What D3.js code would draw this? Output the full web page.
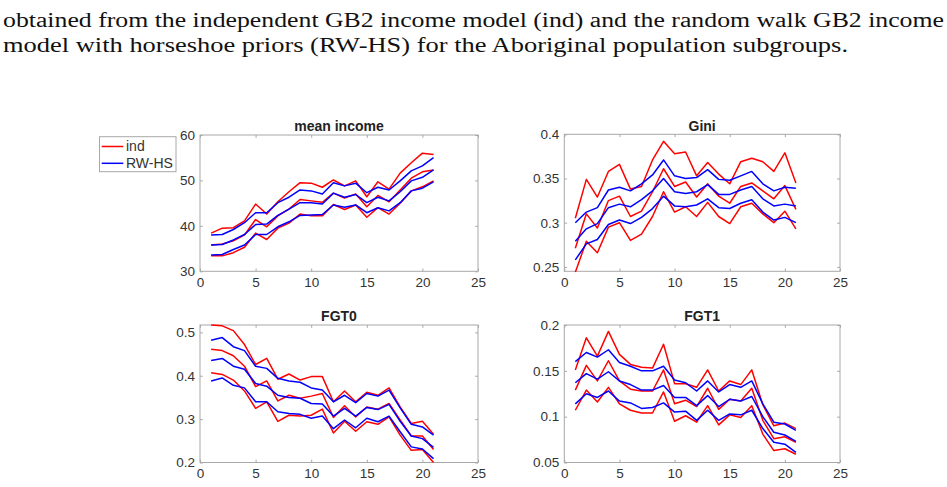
<!DOCTYPE html>
<html><head><meta charset="utf-8">
<script src="https://cdn.jsdelivr.net/npm/d3@7"></script>
<style>
html,body{margin:0;padding:0;background:#fff;}
svg{display:block;}
</style></head>
<body>
<svg id="chart" width="947" height="487"></svg>
<script>
// ---- data ----
const areas = d3.range(1, 22);
const xTicks = [0, 5, 10, 15, 20, 25];
const captionLines = [
  "obtained from the independent GB2 income model (ind) and the random walk GB2 income",
  "model with horseshoe priors (RW-HS) for the Aboriginal population subgroups."
];
const legendLabels = ["ind", "RW-HS"];
const panelTitles = ["mean income", "Gini", "FGT0", "FGT1"];

// mean income
const meanIndHi  = [38.4,39.5,39.6,41.1,44.8,42.6,45.3,47.5,49.5,49.4,48.5,50.1,48.8,49.9,46.4,49.7,48.1,51.6,53.9,56.0,55.7];
const meanIndMid = [35.8,36.0,36.7,38.0,41.4,39.8,42.2,43.7,45.8,45.5,45.2,47.2,46.1,47.0,44.2,46.7,45.3,47.9,50.5,51.9,52.3];
const meanIndLo  = [33.4,33.4,34.1,35.3,38.4,37.0,39.5,40.6,42.6,42.2,42.2,44.7,43.6,44.6,41.9,44.0,42.6,45.0,47.7,48.6,49.9];
const meanRwHi   = [38.0,38.1,39.2,40.7,42.9,42.9,45.1,46.3,47.9,47.7,47.0,49.5,48.8,49.4,47.3,48.5,47.9,49.9,52.1,53.2,55.0];
const meanRwMid  = [35.8,35.9,36.9,38.1,40.3,40.4,42.3,43.7,45.1,45.1,44.8,47.2,46.3,46.9,45.1,46.3,45.5,47.5,49.9,50.7,52.3];
const meanRwLo   = [33.6,33.7,34.8,35.8,38.1,38.1,39.8,40.9,42.3,42.4,42.5,44.6,44.1,44.6,42.9,44.0,43.3,45.1,47.7,48.3,49.7];
const meanYTicks = [30, 40, 50, 60];

// Gini
const giniIndHi  = [0.305,0.349,0.329,0.358,0.366,0.338,0.341,0.371,0.392,0.378,0.380,0.353,0.368,0.355,0.344,0.369,0.373,0.369,0.358,0.379,0.345];
const giniIndMid = [0.271,0.310,0.294,0.325,0.330,0.307,0.313,0.335,0.361,0.341,0.346,0.329,0.344,0.330,0.322,0.341,0.345,0.336,0.327,0.342,0.315];
const giniIndLo  = [0.244,0.279,0.266,0.295,0.300,0.280,0.287,0.307,0.335,0.312,0.318,0.307,0.323,0.307,0.299,0.318,0.322,0.310,0.300,0.313,0.293];
const giniRwHi   = [0.300,0.312,0.317,0.337,0.340,0.336,0.344,0.354,0.371,0.353,0.350,0.351,0.360,0.349,0.348,0.353,0.358,0.344,0.336,0.340,0.339];
const giniRwMid  = [0.279,0.293,0.299,0.317,0.321,0.318,0.326,0.336,0.350,0.335,0.333,0.335,0.343,0.332,0.332,0.337,0.341,0.327,0.319,0.321,0.319];
const giniRwLo   = [0.258,0.276,0.281,0.298,0.303,0.299,0.306,0.316,0.330,0.319,0.318,0.320,0.327,0.317,0.316,0.322,0.326,0.312,0.303,0.306,0.300];
const giniYTicks = [0.25, 0.3, 0.35, 0.4];

// FGT0
const fgt0IndHi  = [0.517,0.515,0.504,0.472,0.426,0.440,0.392,0.404,0.390,0.398,0.398,0.340,0.365,0.340,0.362,0.355,0.372,0.328,0.290,0.295,0.265];
const fgt0IndMid = [0.461,0.458,0.446,0.422,0.375,0.388,0.342,0.355,0.348,0.353,0.359,0.304,0.331,0.305,0.328,0.323,0.336,0.298,0.261,0.261,0.230];
const fgt0IndLo  = [0.407,0.403,0.390,0.365,0.325,0.340,0.295,0.309,0.307,0.309,0.323,0.268,0.295,0.272,0.294,0.288,0.305,0.263,0.228,0.230,0.200];
const fgt0RwHi   = [0.482,0.488,0.467,0.458,0.422,0.417,0.394,0.388,0.385,0.372,0.367,0.340,0.355,0.338,0.359,0.353,0.367,0.326,0.288,0.282,0.263];
const fgt0RwMid  = [0.435,0.440,0.422,0.415,0.382,0.376,0.355,0.350,0.348,0.336,0.335,0.307,0.325,0.307,0.327,0.322,0.334,0.295,0.261,0.255,0.235];
const fgt0RwLo   = [0.388,0.395,0.378,0.372,0.340,0.340,0.317,0.313,0.311,0.302,0.307,0.278,0.298,0.280,0.302,0.294,0.307,0.271,0.236,0.231,0.209];
const fgt0YTicks = [0.2, 0.3, 0.4, 0.5];

// FGT1
const fgt1IndHi  = [0.151,0.186,0.166,0.193,0.168,0.157,0.154,0.153,0.179,0.136,0.136,0.132,0.151,0.128,0.139,0.135,0.151,0.113,0.090,0.093,0.087];
const fgt1IndMid = [0.129,0.156,0.139,0.161,0.139,0.130,0.128,0.128,0.151,0.114,0.118,0.111,0.131,0.108,0.119,0.117,0.131,0.096,0.076,0.078,0.072];
const fgt1IndLo  = [0.107,0.129,0.116,0.132,0.114,0.107,0.104,0.104,0.127,0.095,0.101,0.094,0.112,0.091,0.102,0.099,0.112,0.081,0.063,0.065,0.059];
const fgt1RwHi   = [0.160,0.170,0.165,0.173,0.159,0.155,0.150,0.150,0.155,0.140,0.137,0.128,0.139,0.127,0.135,0.132,0.139,0.114,0.094,0.092,0.085];
const fgt1RwMid  = [0.137,0.147,0.141,0.149,0.139,0.135,0.129,0.129,0.134,0.121,0.121,0.112,0.123,0.111,0.119,0.117,0.122,0.100,0.083,0.080,0.073];
const fgt1RwLo   = [0.114,0.125,0.121,0.128,0.117,0.115,0.109,0.110,0.115,0.105,0.106,0.096,0.107,0.096,0.103,0.102,0.107,0.087,0.072,0.070,0.061];
const fgt1YTicks = [0.05, 0.1, 0.15, 0.2];

// ---- layout ----
const svg = d3.select("#chart");
const RED = "#ff0000", BLUE = "#0000ff";
const AX = "#a8a8a8", TXT = "#333333";

svg.selectAll("text.cap").data(captionLines).join("text")
  .attr("class", "cap")
  .attr("x", 3).attr("y", (d, i) => 27 + i * 25)
  .style("font-family", "'Liberation Serif', 'DejaVu Serif', serif")
  .attr("font-size", 20.5)
  .attr("fill", "#111")
  .attr("textLength", (d, i) => i === 0 ? 941 : 845)
  .attr("lengthAdjust", "spacingAndGlyphs")
  .text(d => d);

const panels = [
  {title: panelTitles[0], x0: 200, x1: 478, y0: 135, y1: 271.3, dom: [30, 60], ticks: meanYTicks,
   ind: [meanIndHi, meanIndMid, meanIndLo], rw: [meanRwHi, meanRwMid, meanRwLo], tb: 130.5, legend: true},
  {title: panelTitles[1], x0: 564.3, x1: 840, y0: 134.3, y1: 271.3, dom: [0.245, 0.4], ticks: giniYTicks,
   ind: [giniIndHi, giniIndMid, giniIndLo], rw: [giniRwHi, giniRwMid, giniRwLo], tb: 130.5},
  {title: panelTitles[2], x0: 200, x1: 478, y0: 325, y1: 462.5, dom: [0.2, 0.517], ticks: fgt0YTicks,
   ind: [fgt0IndHi, fgt0IndMid, fgt0IndLo], rw: [fgt0RwHi, fgt0RwMid, fgt0RwLo], tb: 321},
  {title: panelTitles[3], x0: 564.3, x1: 840, y0: 325, y1: 462.5, dom: [0.05, 0.2], ticks: fgt1YTicks,
   ind: [fgt1IndHi, fgt1IndMid, fgt1IndLo], rw: [fgt1RwHi, fgt1RwMid, fgt1RwLo], tb: 321}
];

const FONT = "'Liberation Sans', Arial, Helvetica, sans-serif";

panels.forEach(p => {
  const x = d3.scaleLinear().domain([0, 25]).range([p.x0, p.x1]);
  const y = d3.scaleLinear().domain(p.dom).range([p.y1, p.y0]);
  const g = svg.append("g");

  g.append("rect").attr("x", p.x0).attr("y", p.y0)
    .attr("width", p.x1 - p.x0).attr("height", p.y1 - p.y0)
    .attr("fill", "#fff").attr("stroke", AX).attr("stroke-width", 1);

  const tl = 2.8;
  const xb = g.append("g").attr("transform", `translate(0,${p.y1})`)
    .call(d3.axisBottom(x).tickValues(xTicks).tickSize(-tl).tickPadding(6).tickFormat(d3.format("d")));
  const xt = g.append("g").attr("transform", `translate(0,${p.y0})`)
    .call(d3.axisTop(x).tickValues(xTicks).tickSize(-tl).tickFormat(""));
  const yl = g.append("g").attr("transform", `translate(${p.x0},0)`)
    .call(d3.axisLeft(y).tickValues(p.ticks).tickSize(-tl).tickPadding(5).tickFormat(d => String(d)));
  const yr = g.append("g").attr("transform", `translate(${p.x1},0)`)
    .call(d3.axisRight(y).tickValues(p.ticks).tickSize(-tl).tickFormat(""));
  [xb, xt, yl, yr].forEach(a => {
    a.select(".domain").remove();
    a.selectAll("line").attr("stroke", AX);
    a.selectAll("text").attr("fill", TXT).attr("font-family", FONT).attr("font-size", 13.5);
  });
  xb.selectAll("text").attr("dy", "0.71em");

  g.append("text").attr("x", (p.x0 + p.x1) / 2).attr("y", p.tb)
    .attr("text-anchor", "middle").attr("font-family", FONT)
    .attr("font-weight", "bold").attr("font-size", 14).attr("fill", "#222")
    .text(p.title);

  const line = d3.line().x((d, i) => x(areas[i])).y(d => y(d));
  const clip = "clip" + Math.round(p.x0) + Math.round(p.y0);
  svg.append("clipPath").attr("id", clip).append("rect")
    .attr("x", p.x0).attr("y", p.y0 - 1).attr("width", p.x1 - p.x0).attr("height", p.y1 - p.y0 + 2);
  const lg = g.append("g").attr("clip-path", `url(#${clip})`);
  lg.selectAll("path.ind").data(p.ind).join("path").attr("class", "ind")
    .attr("d", line).attr("fill", "none").attr("stroke", RED).attr("stroke-width", 1.5)
    .attr("stroke-linejoin", "round");
  lg.selectAll("path.rw").data(p.rw).join("path").attr("class", "rw")
    .attr("d", line).attr("fill", "none").attr("stroke", BLUE).attr("stroke-width", 1.5)
    .attr("stroke-linejoin", "round");

  if (p.legend) {
    const L = svg.append("g");
    L.append("rect").attr("x", 99.5).attr("y", 136.7).attr("width", 76.5).attr("height", 35)
      .attr("fill", "#fff").attr("stroke", AX).attr("stroke-width", 1);
    const cols = [RED, BLUE];
    legendLabels.forEach((lab, i) => {
      const cy = 146.5 + i * 16.8;
      L.append("line").attr("x1", 101.7).attr("x2", 123.3).attr("y1", cy).attr("y2", cy)
        .attr("stroke", cols[i]).attr("stroke-width", 1.5);
      L.append("text").attr("x", 126).attr("y", cy).attr("dy", "0.35em")
        .attr("font-family", FONT).attr("font-size", 14).attr("fill", TXT).text(lab);
    });
  }
});
</script>
</body></html>
